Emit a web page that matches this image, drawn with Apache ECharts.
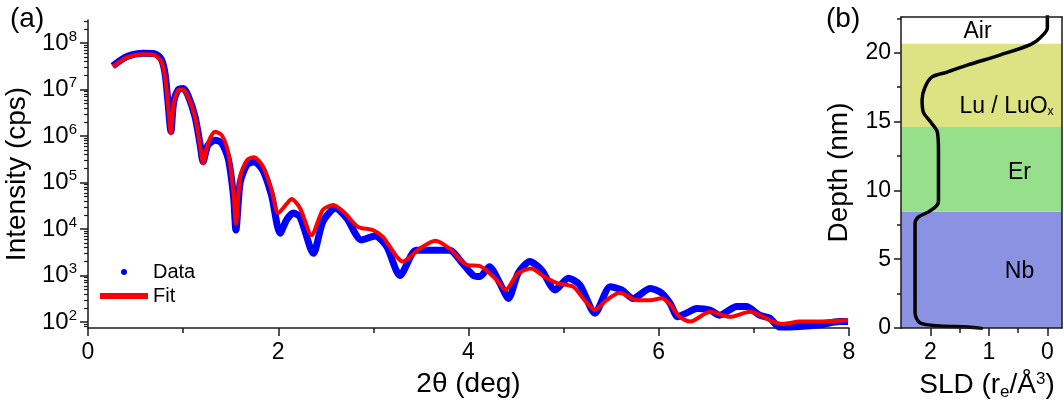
<!DOCTYPE html>
<html>
<head>
<meta charset="utf-8">
<script src="https://cdn.jsdelivr.net/npm/echarts@6/dist/echarts.min.js"></script>
<style>
  html, body { margin: 0; padding: 0; background: #fff; }
  #chart { width: 1064px; height: 406px; }
</style>
</head>
<body>
<div id="chart"></div>
<script>
// (a) reflectivity: measured data and fit, 2θ in deg, intensity in cps
const dataAngle = [0.26, 0.41, 0.58, 0.70, 0.77, 0.81, 0.84, 0.872, 0.90, 0.95, 1.00, 1.05, 1.125, 1.18, 1.21, 1.26, 1.335, 1.405, 1.475, 1.53, 1.555, 1.60, 1.67, 1.745, 1.84, 1.93, 2.02, 2.09, 2.16, 2.23, 2.37, 2.47, 2.60, 2.72, 2.875, 3.02, 3.14, 3.28, 3.45, 3.63, 3.80, 3.94, 4.05, 4.12, 4.22, 4.33, 4.42, 4.52, 4.645, 4.77, 4.91, 5.05, 5.17, 5.33, 5.49, 5.61, 5.73, 5.91, 6.03, 6.12, 6.20, 6.29, 6.40, 6.54, 6.64, 6.82, 6.92, 7.06, 7.17, 7.27, 7.48, 7.69, 7.90, 7.99]
const dataIntensity = [3.2e7, 5.1e7, 6.0e7, 5.9e7, 4.5e7, 2.2e7, 5.6e6, 1.26e6, 5.2e6, 1.0e7, 1.05e7, 7.6e6, 2.6e6, 6.3e5, 2.8e5, 6.3e5, 8.1e5, 7.1e5, 3.2e5, 5.0e4, 9.5e3, 1.0e5, 2.4e5, 2.8e5, 1.8e5, 5.2e4, 8.1e3, 1.6e4, 2.2e4, 1.8e4, 3.0e3, 1.45e4, 2.8e4, 1.7e4, 5.8e3, 7.1e3, 4.2e3, 1.0e3, 3.5e3, 3.5e3, 3.5e3, 1.8e3, 1.0e3, 950, 1.55e3, 680, 320, 1.1e3, 2.0e3, 1.3e3, 490, 870, 630, 155, 575, 490, 320, 525, 420, 250, 130, 155, 195, 180, 140, 215, 215, 140, 120, 78, 80, 87, 102, 102]

const fitAngle = [0.26, 0.41, 0.58, 0.70, 0.77, 0.81, 0.84, 0.872, 0.90, 0.95, 0.995, 1.05, 1.125, 1.18, 1.21, 1.26, 1.335, 1.405, 1.475, 1.53, 1.555, 1.60, 1.67, 1.745, 1.84, 1.93, 2.00, 2.09, 2.14, 2.23, 2.35, 2.47, 2.58, 2.70, 2.84, 2.995, 3.10, 3.31, 3.49, 3.65, 3.80, 3.98, 4.12, 4.28, 4.39, 4.52, 4.66, 4.80, 4.94, 5.10, 5.22, 5.33, 5.45, 5.59, 5.77, 5.91, 6.03, 6.12, 6.22, 6.33, 6.54, 6.75, 6.96, 7.10, 7.20, 7.31, 7.48, 7.66, 7.87, 7.99]
const fitIntensity = [3.1e7, 4.9e7, 5.75e7, 5.5e7, 4.0e7, 1.9e7, 5.0e6, 1.15e6, 5.0e6, 9.8e6, 1.0e7, 7.1e6, 2.6e6, 5.9e5, 2.6e5, 6.9e5, 1.23e6, 1.05e6, 4.3e5, 5.9e4, 1.3e4, 1.35e5, 3.0e5, 3.5e5, 2.2e5, 6.9e4, 2.2e4, 3.5e4, 4.4e4, 2.8e4, 7.4e3, 2.6e4, 3.3e4, 2.2e4, 1.1e4, 9.5e3, 6.8e3, 2.0e3, 3.8e3, 5.6e3, 3.8e3, 1.7e3, 1.6e3, 870, 490, 1.12e3, 1.41e3, 930, 680, 575, 295, 182, 295, 427, 295, 295, 324, 240, 129, 102, 166, 129, 166, 129, 102, 91, 102, 102, 107, 110]

// (b) SLD profile, depth in nm, SLD in r_e/Å^3
const depth = [22.8, 21.8, 21.1, 20.6, 19.85, 19.1, 18.6, 18.25, 17.5, 16.6, 15.7, 15.0, 14.25, 12.9, 9.3, 8.95, 8.44, 8.07, 7.6, 1.1, 0.36, 0.15, 0.07, -0.05]
const sld = [0.0, 0.0, 0.12, 0.29, 0.80, 1.37, 1.71, 1.97, 2.09, 2.14, 2.12, 2.00, 1.88, 1.86, 1.86, 1.88, 2.03, 2.20, 2.26, 2.26, 2.17, 1.83, 1.37, 1.1]

const layerNames = ['Nb', 'Er', 'Lu / LuO{sub|x}', 'Air']
const layerBottom = [0, 8.45, 14.6, 20.65]
const layerTop = [8.45, 14.6, 20.65, 22.6]
const layerColors = ['#8b92e2', '#96df8b', '#dde283', 'rgba(0,0,0,0)']
const layerOffsets = [[38, 2], [38, 3], [25, 21], [-4, 1]]

const logMajorTicks = [1e2, 1e3, 1e4, 1e5, 1e6, 1e7, 1e8]
const depthTicks = [0, 5, 10, 15, 20]
const depthMinorTicks = [2.5, 7.5, 12.5, 17.5, 22.5]
const sldTicks = [0, 1, 2]
const sldMinorTicks = [0.5, 1.5]

const yMin = 74.3
const yMax = 3.12e8
// minor ticks of the log axis: 2..9 x 10^n
const logMinorTicks = []
for (let e = 1; e <= 8; e++) {
    for (let m = 2; m <= 9; m++) {
        const v = m * Math.pow(10, e)
        if (v > yMin && v < yMax) logMinorTicks.push(v)
    }
}

const font = 'Liberation Sans, Arial, sans-serif'
const axisColor = '#1a1a1a'
const tickFont = 23

const chart = echarts.init(document.getElementById('chart'))

const lineOnly = { show: true, onZero: false, lineStyle: { color: axisColor, width: 1.5 } }
const noLine = { show: false, onZero: false }

chart.setOption({
    animation: false,
    textStyle: { fontFamily: font, color: '#000' },
    title: [
        { text: '(a)', left: 5, top: 0, textStyle: { fontSize: 28, fontWeight: 'normal', color: '#000', fontFamily: font } },
        { text: '(b)', left: 821, top: 0, textStyle: { fontSize: 28, fontWeight: 'normal', color: '#000', fontFamily: font } }
    ],
    legend: {
        orient: 'vertical',
        left: 95,
        top: 256,
        itemWidth: 48,
        itemHeight: 6,
        itemGap: 2,
        textStyle: { fontSize: 20, color: '#000', lineHeight: 22, fontFamily: font },
        data: [
            { name: 'Data', icon: 'circle' },
            { name: 'Fit', icon: 'rect' }
        ]
    },
    grid: [
        { left: 88, top: 20, width: 761, height: 308, outerBoundsMode: 'none', containLabel: false },
        { left: 901, top: 17, width: 161, height: 311, outerBoundsMode: 'none', containLabel: false }
    ],
    xAxis: [
        {
            gridIndex: 0, type: 'value', min: 0, max: 8, interval: 2, position: 'bottom',
            name: '2θ (deg)', nameLocation: 'middle', nameGap: 42,
            nameTextStyle: { fontSize: 28, color: '#000' },
            axisLine: lineOnly,
            axisTick: { show: true, length: 8, lineStyle: { color: axisColor, width: 1.5 } },
            minorTick: { show: true, splitNumber: 2, length: 5, lineStyle: { color: axisColor, width: 1.5 } },
            axisLabel: { fontSize: tickFont, color: '#000', margin: 13 },
            splitLine: { show: false }
        },
        {
            gridIndex: 1, type: 'value', min: -0.25, max: 2.5, inverse: true, position: 'bottom', z: 10,
            name: 'SLD (r{sub|e}/Å{sup|3})', nameLocation: 'middle', nameGap: 42,
            nameTextStyle: {
                fontSize: 28, color: '#000', padding: [0, 0, 0, 11],
                rich: {
                    sub: { fontSize: 17, padding: [14, 0, 0, 0] },
                    sup: { fontSize: 17, padding: [0, 0, 12, 0] }
                }
            },
            axisLine: lineOnly,
            axisTick: { show: true, length: 8, customValues: sldTicks, lineStyle: { color: axisColor, width: 1.5 } },
            axisLabel: { fontSize: tickFont, color: '#000', margin: 13, customValues: sldTicks },
            splitLine: { show: false }
        },
        {
            gridIndex: 1, type: 'value', min: -0.25, max: 2.5, inverse: true, position: 'bottom', z: 10,
            axisLine: noLine,
            axisTick: { show: true, length: 5, customValues: sldMinorTicks, lineStyle: { color: axisColor, width: 1.5 } },
            axisLabel: { show: false },
            splitLine: { show: false }
        },
        {
            gridIndex: 1, type: 'value', min: -0.25, max: 2.5, inverse: true, position: 'top', z: 10,
            axisLine: lineOnly, axisTick: { show: false }, axisLabel: { show: false }, splitLine: { show: false }
        }
    ],
    yAxis: [
        {
            gridIndex: 0, type: 'log', logBase: 10, min: yMin, max: yMax, position: 'left',
            name: 'Intensity (cps)', nameLocation: 'middle', nameGap: 52,
            nameTextStyle: { fontSize: 28, color: '#000' },
            axisLine: lineOnly,
            axisTick: { show: true, length: 8, customValues: logMajorTicks, lineStyle: { color: axisColor, width: 1.5 } },
            axisLabel: {
                customValues: logMajorTicks, margin: 11, color: '#000',
                formatter: v => '{a|10}{b|' + Math.round(Math.log10(v)) + '}',
                rich: {
                    a: { fontSize: 24, color: '#000' },
                    b: { fontSize: 15, color: '#000', padding: [0, 0, 13, 0] }
                }
            },
            splitLine: { show: false },
            minorTick: { show: false }
        },
        {
            gridIndex: 0, type: 'log', logBase: 10, min: yMin, max: yMax, position: 'left',
            axisLine: noLine,
            axisTick: { show: true, length: 4, customValues: logMinorTicks, lineStyle: { color: axisColor, width: 1.2 } },
            axisLabel: { show: false },
            splitLine: { show: false }
        },
        {
            gridIndex: 1, type: 'value', min: 0, max: 22.6, position: 'left', z: 10,
            name: 'Depth (nm)', nameLocation: 'middle', nameGap: 48,
            nameTextStyle: { fontSize: 28, color: '#000' },
            axisLine: lineOnly,
            axisTick: { show: true, length: 7, customValues: depthTicks, lineStyle: { color: axisColor, width: 1.5 } },
            axisLabel: { fontSize: tickFont, color: '#000', margin: 10, customValues: depthTicks },
            splitLine: { show: false }
        },
        {
            gridIndex: 1, type: 'value', min: 0, max: 22.6, position: 'left', z: 10,
            axisLine: noLine,
            axisTick: { show: true, length: 4, customValues: depthMinorTicks, lineStyle: { color: axisColor, width: 1.5 } },
            axisLabel: { show: false },
            splitLine: { show: false }
        },
        {
            gridIndex: 1, type: 'value', min: 0, max: 22.6, position: 'right', z: 10,
            axisLine: lineOnly, axisTick: { show: false }, axisLabel: { show: false }, splitLine: { show: false }
        }
    ],
    series: [
        {
            name: 'Data', type: 'line', xAxisIndex: 0, yAxisIndex: 0,
            data: dataAngle.map((x, i) => [x, dataIntensity[i]]),
            color: '#0000ff',
            showSymbol: false, smooth: 0.25,
            lineStyle: { width: 7, color: '#0000ff' },
            z: 2
        },
        {
            name: 'Fit', type: 'line', xAxisIndex: 0, yAxisIndex: 0,
            data: fitAngle.map((x, i) => [x, fitIntensity[i]]),
            color: '#ff0000',
            showSymbol: false, smooth: 0.25,
            lineStyle: { width: 4, color: '#ff0000' },
            z: 3
        },
        {
            name: 'SLD', type: 'line', xAxisIndex: 1, yAxisIndex: 2,
            data: sld.map((s, i) => [s, depth[i]]),
            color: '#000',
            showSymbol: false, smooth: 0.3,
            lineStyle: { width: 3.5, color: '#000' },
            z: 3,
            markArea: {
                silent: true,
                data: layerNames.map((n, i) => [
                    {
                        yAxis: layerBottom[i],
                        itemStyle: { color: layerColors[i] },
                        label: {
                            show: true, position: 'inside', formatter: n, offset: layerOffsets[i],
                            fontSize: 23, color: '#000', fontFamily: font,
                            rich: { sub: { fontSize: 12, color: '#000', padding: [11, 0, 0, 0] } }
                        }
                    },
                    { yAxis: layerTop[i] }
                ])
            }
        }
    ]
})
</script>
</body>
</html>
